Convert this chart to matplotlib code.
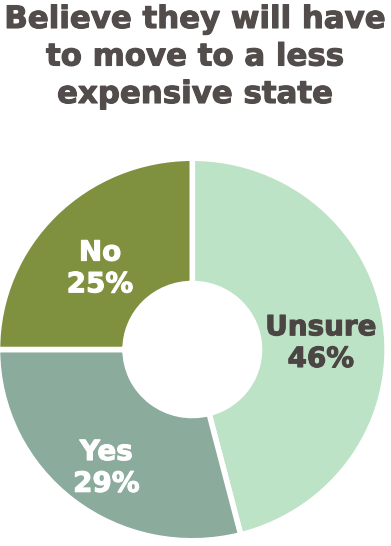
import numpy as np
import matplotlib
matplotlib.use("Agg")
import matplotlib.pyplot as plt
import matplotlib.patheffects as pe

# data
labels = ["Unsure", "Yes", "No"]
values = [46, 29, 25]
colors = ["#bde3c6", "#8bab9c", "#7f913f"]
text_colors = ["#4b4644", "white", "white"]

title_lines = ["Believe they will have", "to move to a less", "expensive state"]

plt.rcParams["font.family"] = ["DejaVu Sans"]

W, H = 391, 546
fig = plt.figure(figsize=(W / 100, H / 100), dpi=100)

# donut centre ~ (192, 349.5) px, radius ~195 x 191 px incl. white stroke
cx, cy, rx, ry = 192.3, 349.5, 194.8, 191.3
ax = fig.add_axes([(cx - rx) / W, (H - cy - ry) / H, 2 * rx / W, 2 * ry / H])

wedges, _ = ax.pie(values, colors=colors, startangle=90, counterclock=False,
                   radius=1, wedgeprops=dict(width=0.655, edgecolor="white", linewidth=4))
ax.set_xlim(-1, 1)
ax.set_ylim(-1, 1)
ax.set_aspect("auto")
ax.axis("off")

# slice labels at mid angle (distance from centre per slice)
label_r = [0.665, 0.72, 0.67]
for w, lab, v, tc, r in zip(wedges, labels, values, text_colors, label_r):
    ang = np.deg2rad((w.theta1 + w.theta2) / 2)
    ax.text(r * np.cos(ang), r * np.sin(ang) - 0.05, f"{lab}\n{v}%", ha="center", va="center",
            color=tc, fontsize=20, fontweight="bold", linespacing=1.17,
            path_effects=[pe.withStroke(linewidth=0.8, foreground=tc)])

# title, one text per line on its baseline
for line, base in zip(title_lines, [28, 65.5, 103]):
    fig.text(195.5 / W, 1 - base / H, line, ha="center", va="baseline", fontsize=22.2,
             fontweight="bold", color="#524c4a",
             path_effects=[pe.withStroke(linewidth=0.8, foreground="#524c4a")])

fig.savefig("out.png", dpi=100)
